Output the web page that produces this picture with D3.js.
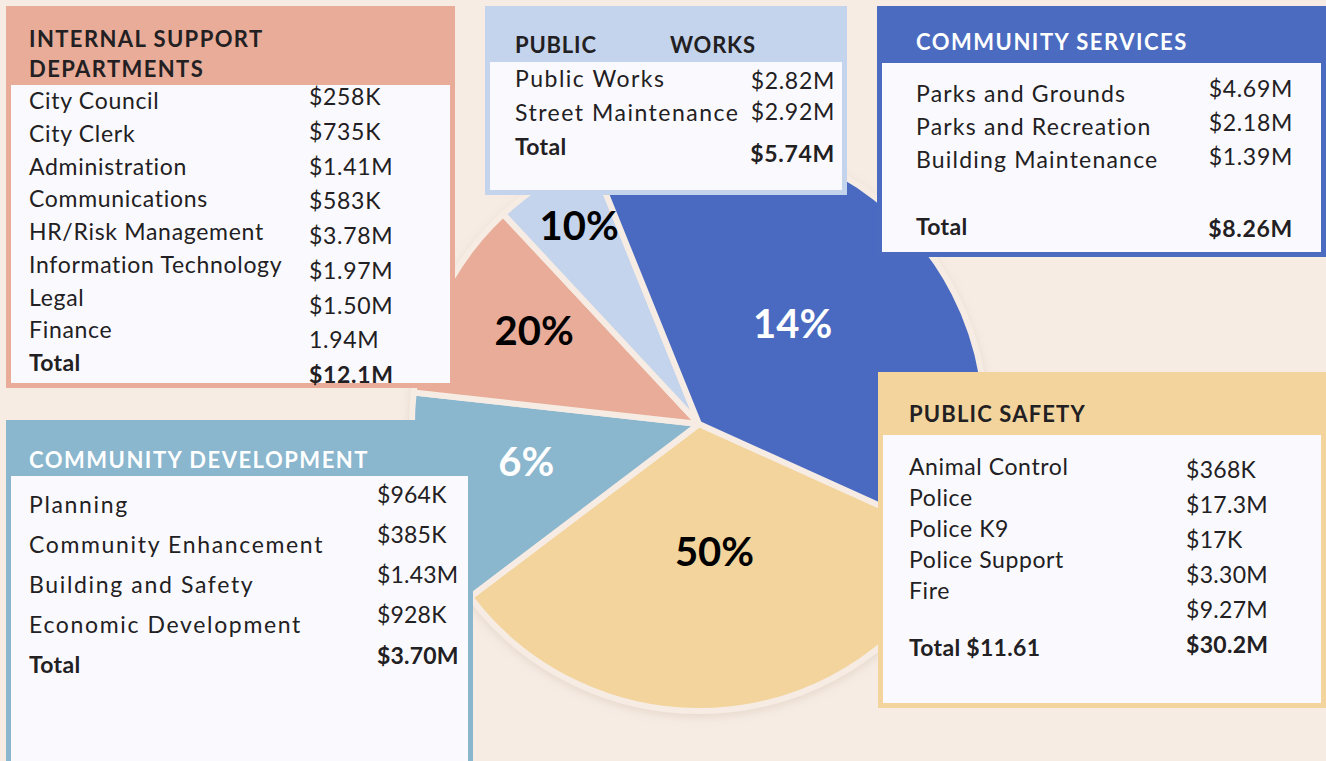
<!DOCTYPE html>
<html>
<head>
<meta charset="utf-8">
<script src="https://cdn.jsdelivr.net/npm/d3@7"></script>
<style>
	body { margin: 0; background: #F6ECE4; }
	svg { display: block; font-family: Lato, "Open Sans", sans-serif; }
</style>
</head>
<body>
<script>
// pie wedges, in drawing order (clockwise from the right)
var categories = ["Public Safety", "Community Development", "Internal Support Departments", "Public Works", "Community Services"];
var percentLabels = ["50%", "6%", "20%", "10%", "14%"];
// angular size of each wedge as drawn in the picture (degrees)
var wedgeDegrees = [118.6, 43.4, 40.7, 21, 136.3];

var internalNames = ["City Council", "City Clerk", "Administration", "Communications", "HR/Risk Management", "Information Technology", "Legal", "Finance", "Total"];
var internalValues = ["$258K", "$735K", "$1.41M", "$583K", "$3.78M", "$1.97M", "$1.50M", "1.94M", "$12.1M"];

var worksNames = ["Public Works", "Street Maintenance", "Total"];
var worksValues = ["$2.82M", "$2.92M", "$5.74M"];

var servicesNames = ["Parks and Grounds", "Parks and Recreation", "Building Maintenance", "Total"];
var servicesValues = ["$4.69M", "$2.18M", "$1.39M", "$8.26M"];

var developmentNames = ["Planning", "Community Enhancement", "Building and Safety", "Economic Development", "Total"];
var developmentValues = ["$964K", "$385K", "$1.43M", "$928K", "$3.70M"];

var safetyNames = ["Animal Control", "Police", "Police K9", "Police Support", "Fire", "Total $11.61"];
var safetyValues = ["$368K", "$17.3M", "$17K", "$3.30M", "$9.27M", "$30.2M"];

var w = 1326;
var h = 761;
var bg = "#F6ECE4";
var ink = "#222022";

var color = d3.scaleOrdinal()
	.domain(categories)
	.range(["#F2D49C", "#8AB6CE", "#E8AC98", "#C4D4EC", "#4A6BC0"]);

var svg = d3.select("body")
	.append("svg")
	.attr("width", w)
	.attr("height", h);

svg.append("rect")
	.attr("width", w)
	.attr("height", h)
	.attr("fill", bg);

var defs = svg.append("defs");
defs.append("filter")
	.attr("id", "shadow")
	.attr("x", "-10%").attr("y", "-10%").attr("width", "120%").attr("height", "120%")
	.append("feDropShadow")
	.attr("dx", 0).attr("dy", 3)
	.attr("stdDeviation", 4)
	.attr("flood-color", "#b89a80")
	.attr("flood-opacity", 0.25);

// ---- pie ----
var cx = 699, cy = 424, radius = 287;
var startDeg = 24.3 + 90;

var pie = d3.pie()
	.sort(null)
	.value(function(d){ return d.deg; })
	.startAngle(startDeg * Math.PI / 180)
	.endAngle((startDeg + 360) * Math.PI / 180);

var slices = pie(categories.map(function(c, i){
	return {name: c, deg: wedgeDegrees[i], label: percentLabels[i]};
}));

var arc = d3.arc()
	.innerRadius(0)
	.outerRadius(radius);

var pieG = svg.append("g")
	.attr("transform", "translate(" + cx + "," + cy + ")")
	.attr("filter", "url(#shadow)");

pieG.selectAll("path")
	.data(slices)
	.enter()
	.append("path")
	.attr("d", arc)
	.attr("fill", function(d){ return color(d.data.name); })
	.attr("stroke", bg)
	.attr("stroke-width", 6)
	.attr("stroke-linejoin", "round");

// narrow wedges carry their label further out
var labelRadius = d3.scaleLinear()
	.domain([20, 45, 140])
	.range([225, 176, 128])
	.clamp(true);

var darkText = {"Public Safety": true, "Internal Support Departments": true, "Public Works": true};

svg.append("g")
	.attr("transform", "translate(" + cx + "," + cy + ")")
	.selectAll("text")
	.data(slices)
	.enter()
	.append("text")
	.text(function(d){ return d.data.label; })
	.attr("transform", function(d){
		var r = labelRadius(d.data.deg);
		var a = (d.startAngle + d.endAngle) / 2;
		return "translate(" + (Math.sin(a) * r) + "," + (-Math.cos(a) * r) + ")";
	})
	.attr("text-anchor", "middle")
	.attr("dy", "0.1em")
	.attr("font-size", 40)
	.attr("font-weight", 700)
	.attr("fill", function(d){ return darkText[d.data.name] ? "#000" : "#fff"; });

// ---- boxes ----
function drawBox(cfg, names, values) {
	var g = svg.append("g");
	g.append("rect")
		.attr("x", cfg.x0).attr("y", cfg.y0)
		.attr("width", cfg.x1 - cfg.x0).attr("height", cfg.y1 - cfg.y0)
		.attr("fill", cfg.head);
	g.append("rect")
		.attr("x", cfg.x0 + 5).attr("y", cfg.inY)
		.attr("width", cfg.x1 - cfg.x0 - 10).attr("height", cfg.y1 - cfg.inY - 5)
		.attr("fill", "#FAFAFE");

	g.selectAll(".title")
		.data(cfg.title)
		.enter()
		.append("text")
		.attr("class", "title")
		.text(function(d){ return d.t; })
		.attr("x", function(d){ return d.x; })
		.attr("y", function(d){ return d.y; })
		.attr("font-size", cfg.titleSize)
		.attr("font-weight", 700)
		.attr("letter-spacing", cfg.titleSpacing)
		.attr("fill", cfg.titleColor);

	var last = names.length - 1;
	g.selectAll(".lab")
		.data(names)
		.enter()
		.append("text")
		.attr("class", "lab")
		.text(function(d){ return d; })
		.attr("x", cfg.labX)
		.attr("y", function(d, i){ return i === last ? cfg.labTotal : cfg.labY + i * cfg.labStep; })
		.attr("font-size", 23)
		.attr("letter-spacing", function(d, i){ return i === last ? 0.3 : cfg.spacing; })
		.attr("font-weight", function(d, i){ return i === last ? 700 : 400; })
		.attr("fill", ink);

	var lastV = values.length - 1;
	g.selectAll(".val")
		.data(values)
		.enter()
		.append("text")
		.attr("class", "val")
		.text(function(d){ return d; })
		.attr("x", cfg.valX)
		.attr("text-anchor", cfg.valAnchor)
		.attr("y", function(d, i){ return i === lastV ? cfg.valTotal : cfg.valY + i * cfg.valStep; })
		.attr("font-size", 23)
		.attr("letter-spacing", cfg.valSpacing)
		.attr("font-weight", function(d, i){ return i === lastV ? 700 : 400; })
		.attr("fill", ink);
}

drawBox({
	x0: 6, y0: 6, x1: 455, y1: 388, inY: 85, head: color(categories[2]),
	title: [{t: "INTERNAL SUPPORT", x: 29, y: 47}, {t: "DEPARTMENTS", x: 29, y: 77}],
	titleSize: 22, titleSpacing: 1.4, titleColor: ink,
	spacing: 0.7, valSpacing: 0.7,
	labX: 29, labY: 109, labStep: 32.75, labTotal: 371,
	valX: 309, valAnchor: "start", valY: 105, valStep: 34.75, valTotal: 383
}, internalNames, internalValues);

drawBox({
	x0: 485, y0: 6, x1: 847, y1: 195, inY: 62, head: color(categories[3]),
	title: [{t: "PUBLIC", x: 515, y: 53}, {t: "WORKS", x: 670, y: 53}],
	titleSize: 22, titleSpacing: 0.8, titleColor: ink,
	spacing: 1.5, valSpacing: 0.7,
	labX: 515, labY: 87, labStep: 34, labTotal: 155,
	valX: 835, valAnchor: "end", valY: 89, valStep: 31, valTotal: 162
}, worksNames, worksValues);

drawBox({
	x0: 877, y0: 6, x1: 1326, y1: 257, inY: 63, head: color(categories[4]),
	title: [{t: "COMMUNITY SERVICES", x: 916, y: 50}],
	titleSize: 22, titleSpacing: 1.5, titleColor: "#fff",
	spacing: 1.2, valSpacing: 0.7,
	labX: 916, labY: 102, labStep: 33, labTotal: 235,
	valX: 1293, valAnchor: "end", valY: 97, valStep: 34, valTotal: 237
}, servicesNames, servicesValues);

drawBox({
	x0: 6, y0: 420, x1: 473, y1: 775, inY: 476, head: color(categories[1]),
	title: [{t: "COMMUNITY DEVELOPMENT", x: 29, y: 468}],
	titleSize: 22, titleSpacing: 1.5, titleColor: "#fff",
	spacing: 1.65, valSpacing: 0.2,
	labX: 29, labY: 513, labStep: 40, labTotal: 673,
	valX: 377, valAnchor: "start", valY: 503, valStep: 40, valTotal: 664
}, developmentNames, developmentValues);

drawBox({
	x0: 878, y0: 372, x1: 1326, y1: 708, inY: 435, head: color(categories[0]),
	title: [{t: "PUBLIC SAFETY", x: 909, y: 422}],
	titleSize: 22, titleSpacing: 1.15, titleColor: ink,
	spacing: 0.6, valSpacing: 0.3,
	labX: 909, labY: 475, labStep: 31, labTotal: 656,
	valX: 1186, valAnchor: "start", valY: 478, valStep: 35, valTotal: 653
}, safetyNames, safetyValues);
</script>
</body>
</html>
